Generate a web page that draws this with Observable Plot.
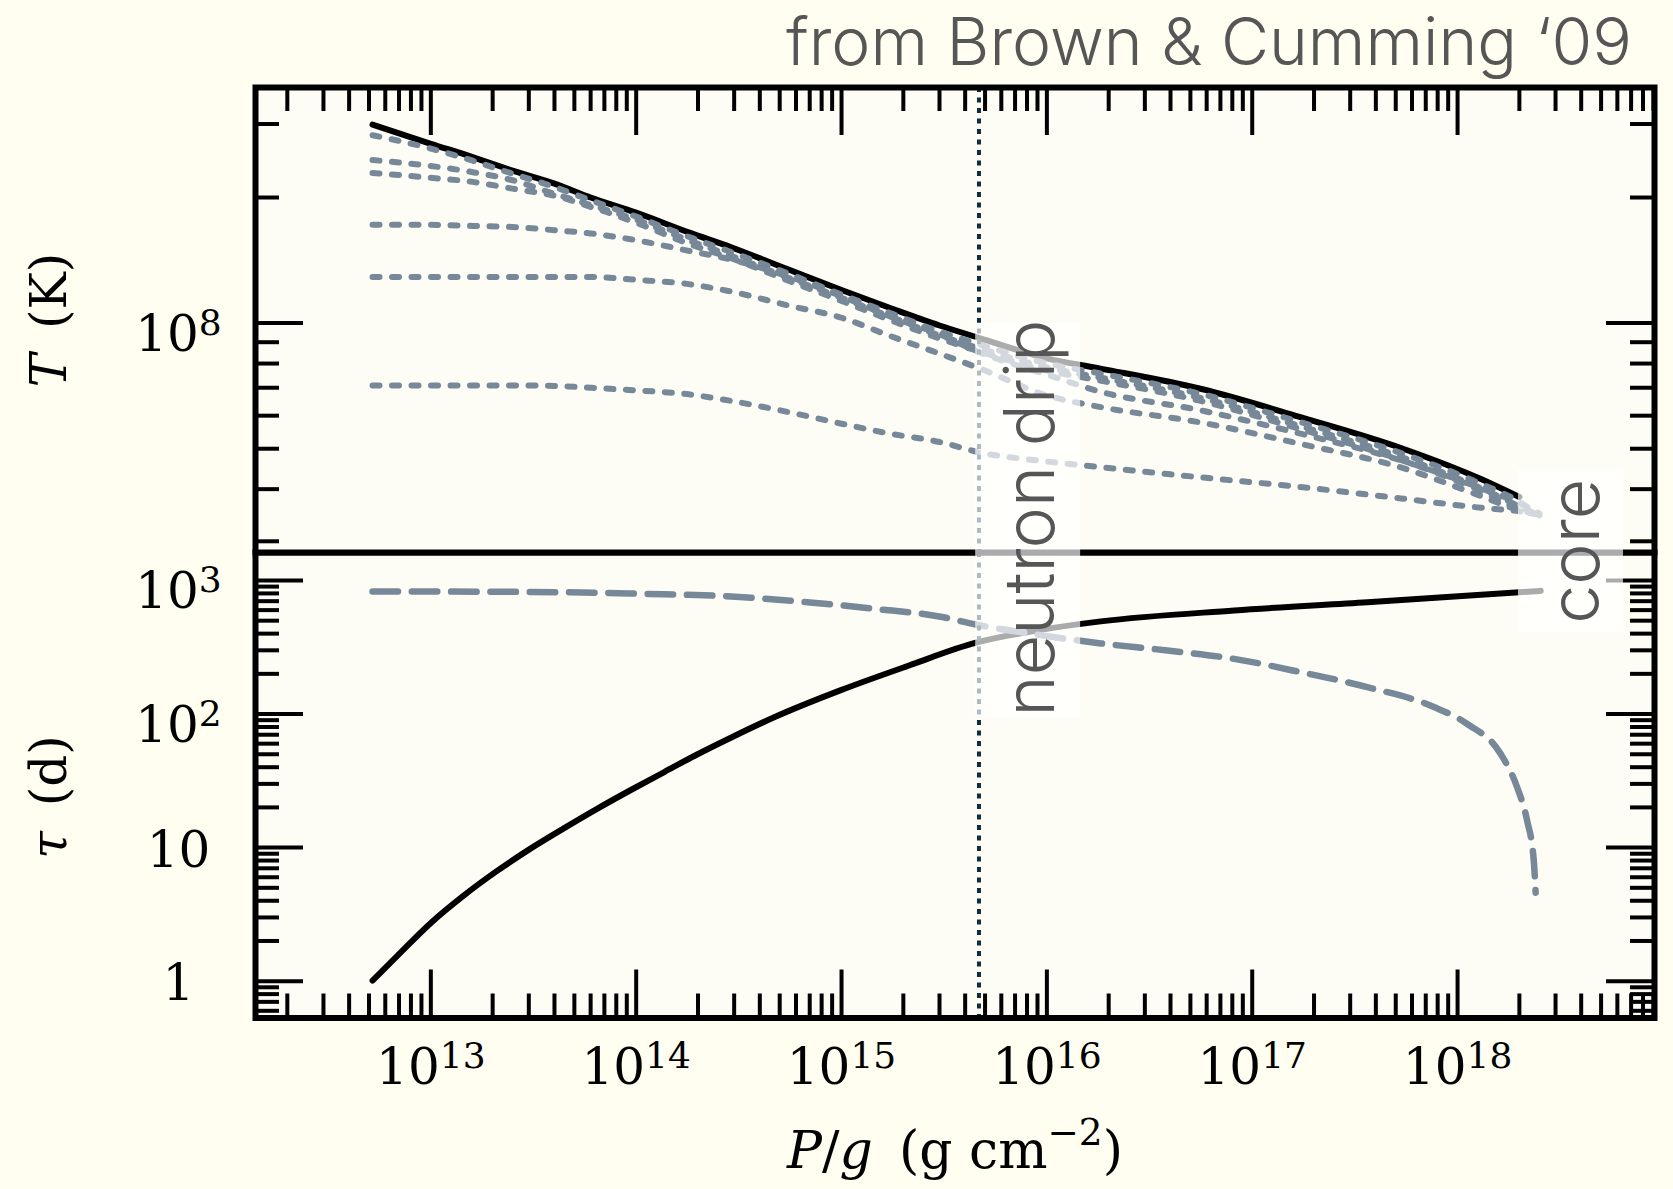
<!DOCTYPE html>
<html>
<head>
<meta charset="utf-8">
<script src="https://cdn.jsdelivr.net/npm/d3@7"></script>
<script src="https://cdn.jsdelivr.net/npm/@observablehq/plot@0.6"></script>
<style>
  html, body { margin: 0; padding: 0; background: #fffef0; }
  #fig { position: relative; width: 1673px; height: 1189px; background: #fffef0; overflow: hidden; }
  #fig .panel { position: absolute; left: 0; }
  #fig svg.overlay { position: absolute; left: 0; top: 0; pointer-events: none; }
</style>
</head>
<body>
<div id="fig">
  <div class="panel" id="lower" style="top:544px"></div>
  <div class="panel" id="upper" style="top:0px"></div>
</div>
<script>
// ---------------- data ----------------
// Column depth P/g (g cm^-2) sampled for the temperature profiles
const pressureT = [5.2e12, 1e13, 1.6e13, 2.5e13, 4e13, 6e13, 1e14, 1.8e14, 2.9e14, 5.6e14,
  1e15, 1.7e15, 3e15, 4.7e15, 1e16, 1.8e16, 5.6e16, 1.7e17, 5.3e17, 1.3e18, 2e18, 2.5e18];

// Steady-state crust temperature (K), solid black curve
const tempBase = [2.99e8, 2.69e8, 2.50e8, 2.32e8, 2.16e8, 2.00e8, 1.84e8, 1.65e8, 1.52e8, 1.34e8,
  1.20e8, 1.09e8, 9.87e7, 9.21e7, 8.23e7, 7.79e7, 6.96e7, 5.96e7, 5.02e7, 4.23e7, 3.83e7];

// Cooling profiles at successive times after the outburst (K), dotted curves
const tempRunA = [2.82e8, 2.62e8, 2.45e8, 2.28e8, 2.12e8, 1.97e8, 1.80e8, 1.61e8, 1.48e8, 1.31e8,
  1.17e8, 1.06e8, 9.55e7, 8.89e7, 8.01e7, 7.58e7, 6.77e7, 5.80e7, 4.88e7, 4.12e7, 3.73e7, 3.46e7];
const tempRunB = [2.46e8, 2.38e8, 2.30e8, 2.20e8, 2.04e8, 1.92e8, 1.77e8, 1.58e8, 1.45e8, 1.28e8,
  1.15e8, 1.04e8, 9.34e7, 8.70e7, 7.83e7, 7.41e7, 6.62e7, 5.67e7, 4.78e7, 4.02e7, 3.64e7, 3.46e7];
const tempRunC = [2.29e8, 2.23e8, 2.18e8, 2.10e8, 2.02e8, 1.90e8, 1.74e8, 1.55e8, 1.43e8, 1.26e8,
  1.13e8, 1.02e8, 9.19e7, 8.55e7, 7.70e7, 7.29e7, 6.51e7, 5.58e7, 4.70e7, 3.96e7, 3.58e7, 3.46e7];
const tempRunD = [1.72e8, 1.72e8, 1.71e8, 1.70e8, 1.67e8, 1.64e8, 1.58e8, 1.49e8, 1.42e8, 1.29e8,
  1.16e8, 1.04e8, 9.40e7, 8.51e7, 7.53e7, 6.86e7, 6.18e7, 5.44e7, 4.69e7, 4.02e7, 3.70e7, 3.50e7];
const tempRunE = [1.29e8, 1.29e8, 1.29e8, 1.29e8, 1.29e8, 1.29e8, 1.27e8, 1.24e8, 1.19e8, 1.10e8,
  1.03e8, 9.34e7, 8.45e7, 7.79e7, 6.71e7, 6.30e7, 5.78e7, 5.14e7, 4.51e7, 3.85e7, 3.56e7, 3.48e7];
const tempRunF = [7.09e7, 7.09e7, 7.09e7, 7.09e7, 7.07e7, 7.00e7, 6.90e7, 6.75e7, 6.51e7, 6.11e7,
  5.74e7, 5.44e7, 5.19e7, 4.90e7, 4.66e7, 4.52e7, 4.27e7, 4.05e7, 3.80e7, 3.61e7, 3.54e7, 3.48e7];

// Thermal time to depth (days), solid black curve
const pressureTauThermal = [5.2e12, 6.9e12, 1e13, 1.45e13, 2.11e13, 3.07e13, 4.46e13, 6.48e13, 9.42e13, 1.37e14,
  1.99e14, 2.89e14, 4.7e14, 9.93e14, 2.1e15, 4.51e15, 9.35e15, 1.83e16, 8.17e16, 3.64e17, 2e18, 2.54e18];
const tauThermal = [1.01, 1.56, 2.73, 4.39, 6.72, 9.87, 14.0, 19.6, 27.0, 36.8,
  50.0, 66.5, 94.6, 151, 229, 342, 427, 494, 596, 688, 817, 837];

// Time remaining to the core (days), dashed curve
const pressureTauCore = [5.2e12, 1e13, 4.4e13, 1.05e14, 2.9e14, 6.8e14, 1.44e15, 3.04e15, 4.5e15, 9.3e15,
  1.83e16, 3.86e16, 8.15e16, 1.72e17, 3.63e17, 7.67e17, 1.11e18, 1.62e18, 1.95e18, 2.18e18, 2.35e18, 2.4e18];
const tauCore = [827, 826, 817, 795, 759, 688, 614, 535, 468, 390,
  338, 299, 259, 206, 159, 113, 84.6, 50.4, 28.3, 16.0, 8.0, 4.6];

// Neutron drip depth
const dripP = 4.67e15;

// Axis ticks and labels
const xMajor = [1e13, 1e14, 1e15, 1e16, 1e17, 1e18];
const xLabels = ["10¹³", "10¹⁴", "10¹⁵", "10¹⁶", "10¹⁷", "10¹⁸"];
const tMajor = [1e8];
const tLabels = ["10⁸"];
const tauMajorPow = [100, 1000];
const tauLabelsPow = ["10²", "10³"];
const tauMajorPlain = [1, 10];
const tauLabelsPlain = ["1", "10"];

// Region annotations (label boxes drawn across both panels)
const notes = [
  {label: "neutron drip", x1: 4.5e15, x2: 1.46e16, y1: 1.0e8, y2: 1.135e7, tx: 1.08e16, ty: 3.41e7},
  {label: "core", x1: 1.98e18, x2: 6.43e18, y1: 4.44e7, y2: 1.815e7, tx: 4.88e18, ty: 2.84e7}
];

// ---------------- layout & style ----------------
const W = 1673;
const mLeft = 255, mRight = 19;
const innerW = W - mLeft - mRight;
const up = {height: 560, top: 87, bottom: 8};
const lo = {height: 645, top: 8, bottom: 171.5};
const hU = up.height - up.top - up.bottom;
const hL = lo.height - lo.top - lo.bottom;
const MAJ = 48, MIN = 24, TICK_W = 4;

const xDomain = [1.4e12, 9.1e18];
const tDomain = [2.82e7, 3.67e8];
const tauDomain = [0.53, 1620];

const ink = "black";
const slate = "#778899";
const dripInk = "#0e2c3b";
const noteInk = "#565656";
const panelFill = "#fdfdf6";
const serif = "'DejaVu Serif', serif";
const sans = "Inter, Roboto, 'Open Sans', sans-serif";

function minorLog([lo, hi]) {
  const out = [];
  for (let e = Math.floor(Math.log10(lo)); e <= Math.ceil(Math.log10(hi)); e++) {
    for (let m = 2; m <= 9; m++) {
      const v = +(m + "e" + e);
      if (v > lo && v < hi) out.push(v);
    }
  }
  return out;
}
const xMinor = minorLog(xDomain);
const tMinor = minorLog(tDomain);
const tauMinor = minorLog(tauDomain);

const tickStyle = {stroke: ink, strokeWidth: TICK_W};

function yTicks(major, minor) {
  return [
    Plot.tickY(major, {y: d => d, insetRight: innerW - MAJ, ...tickStyle}),
    Plot.tickY(major, {y: d => d, insetLeft: innerW - MAJ, ...tickStyle}),
    Plot.tickY(minor, {y: d => d, insetRight: innerW - MIN, ...tickStyle}),
    Plot.tickY(minor, {y: d => d, insetLeft: innerW - MIN, ...tickStyle})
  ];
}

const labelFont = {fontSize: 50, fontFamily: serif, fill: ink};

// ---------------- tables ----------------
const baseRows = tempBase.map((T, i) => ({P: pressureT[i], T}));
const dottedRows = [tempRunA, tempRunB, tempRunC, tempRunD, tempRunE, tempRunF]
  .flatMap((series, run) => series.map((T, i) => ({P: pressureT[i], T, run})));
const thermalRows = tauThermal.map((tau, i) => ({P: pressureTauThermal[i], tau}));
const coreRows = tauCore.map((tau, i) => ({P: pressureTauCore[i], tau}));

// ---------------- upper panel: temperature ----------------
const upperPlot = Plot.plot({
  width: W, height: up.height,
  marginLeft: mLeft, marginRight: mRight, marginTop: up.top, marginBottom: up.bottom,
  style: {background: "transparent", overflow: "visible"},
  x: {type: "log", domain: xDomain, axis: null},
  y: {type: "log", domain: tDomain, axis: null},
  marks: [
    Plot.frame({fill: panelFill, stroke: "none"}),
    Plot.line(baseRows, {x: "P", y: "T", stroke: ink, strokeWidth: 6, strokeLinecap: "round", curve: "monotone-x"}),
    Plot.line(dottedRows, {x: "P", y: "T", z: "run", stroke: slate, strokeWidth: 6,
      strokeDasharray: "7,12.5", strokeLinecap: "round", curve: "monotone-x"}),
    Plot.ruleX([dripP], {stroke: dripInk, strokeWidth: 4, strokeDasharray: "5,5.5"}),
    Plot.tickX(xMajor, {x: d => d, insetBottom: hU - MAJ, ...tickStyle}),
    Plot.tickX(xMinor, {x: d => d, insetBottom: hU - MIN, ...tickStyle}),
    ...yTicks(tMajor, tMinor),
    Plot.text(tMajor, {y: d => d, text: (d, i) => tLabels[i], frameAnchor: "left", dx: -77, dy: 12,
      textAnchor: "middle", lineAnchor: "middle", ...labelFont}),
    Plot.frame({stroke: ink, strokeWidth: 6}),
    Plot.rect(notes, {x1: "x1", x2: "x2", y1: "y1", y2: "y2", fill: "white", fillOpacity: 0.67}),
    Plot.text(notes, {x: "tx", y: "ty", text: "label", rotate: -90, textAnchor: "middle", lineAnchor: "bottom",
      fontSize: 70, fontFamily: sans, fontWeight: 300, fill: noteInk})
  ]
});

// ---------------- lower panel: timescales ----------------
const lowerPlot = Plot.plot({
  width: W, height: lo.height,
  marginLeft: mLeft, marginRight: mRight, marginTop: lo.top, marginBottom: lo.bottom,
  style: {background: "transparent", overflow: "visible"},
  x: {type: "log", domain: xDomain, axis: null},
  y: {type: "log", domain: tauDomain, axis: null},
  marks: [
    Plot.frame({fill: panelFill, stroke: "none"}),
    Plot.line(thermalRows, {x: "P", y: "tau", stroke: ink, strokeWidth: 6, strokeLinecap: "round", curve: "monotone-x"}),
    Plot.line(coreRows, {x: "P", y: "tau", stroke: slate, strokeWidth: 6.5,
      strokeDasharray: "25.5,13.8", strokeLinecap: "round", curve: "monotone-x"}),
    Plot.ruleX([dripP], {stroke: dripInk, strokeWidth: 4, strokeDasharray: "5,5.5"}),
    Plot.tickX(xMajor, {x: d => d, insetTop: hL - MAJ, ...tickStyle}),
    Plot.tickX(xMinor, {x: d => d, insetTop: hL - MIN, ...tickStyle}),
    ...yTicks([...tauMajorPlain, ...tauMajorPow], tauMinor),
    Plot.text(tauMajorPow, {y: d => d, text: (d, i) => tauLabelsPow[i], frameAnchor: "left", dx: -77, dy: 12,
      textAnchor: "middle", lineAnchor: "middle", ...labelFont}),
    Plot.text(tauMajorPlain, {y: d => d, text: (d, i) => tauLabelsPlain[i], frameAnchor: "left", dx: -77, dy: 3,
      textAnchor: "middle", lineAnchor: "middle", ...labelFont}),
    Plot.text(xMajor, {x: d => d, text: (d, i) => xLabels[i], frameAnchor: "bottom", dy: 66,
      textAnchor: "middle", lineAnchor: "bottom", ...labelFont}),
    Plot.frame({stroke: ink, strokeWidth: 6})
  ]
});

// Typeset powers of ten with a raised exponent
const SUPER = {"⁰": "0", "¹": "1", "²": "2", "³": "3", "⁴": "4", "⁵": "5", "⁶": "6", "⁷": "7", "⁸": "8", "⁹": "9", "⁻": "−"};
function raiseExponents(svg) {
  d3.select(svg).selectAll("text").each(function () {
    const s = this.textContent;
    const m = s.match(/^(10)([⁰¹²³⁴⁵⁶⁷⁸⁹⁻]+)$/);
    if (!m) return;
    const exp = [...m[2]].map(c => SUPER[c]).join("");
    const t = d3.select(this);
    t.text(null);
    t.append("tspan").text(m[1]);
    t.append("tspan").attr("dy", "-0.45em").style("font-size", "0.72em").text(exp);
  });
}
raiseExponents(upperPlot);
raiseExponents(lowerPlot);

document.getElementById("lower").appendChild(lowerPlot);
document.getElementById("upper").appendChild(upperPlot);

// ---------------- titles ----------------
const fig = d3.select("#fig");
const overlay = fig.append("svg").attr("class", "overlay").attr("width", 1673).attr("height", 1189);

overlay.append("text")
  .attr("x", 1632).attr("y", 65).attr("text-anchor", "end")
  .attr("font-family", sans).attr("font-weight", 300).attr("font-size", 66).attr("fill", noteInk)
  .text("from Brown & Cumming ‘09");

function axisTitle(g, parts) {
  parts.forEach(([txt, italic, shift, small]) => {
    const t = g.append("tspan").text(txt);
    if (italic) t.attr("font-style", "italic");
    if (shift) t.attr("dy", shift);
    if (small) t.style("font-size", small);
  });
}

const tTitle = overlay.append("text")
  .attr("transform", "translate(66,320) rotate(-90)").attr("text-anchor", "middle")
  .attr("font-family", serif).attr("font-size", 50).attr("fill", ink);
axisTitle(tTitle, [["T", true], ["\u2002(K)", false]]);

const tauTitle = overlay.append("text")
  .attr("transform", "translate(66,797) rotate(-90)").attr("text-anchor", "middle")
  .attr("font-family", serif).attr("font-size", 50).attr("fill", ink);
axisTitle(tauTitle, [["τ", true], ["\u2002(d)", false]]);

const xTitle = overlay.append("text")
  .attr("x", 955).attr("y", 1168).attr("text-anchor", "middle")
  .attr("font-family", serif).attr("font-size", 52).attr("fill", ink);
axisTitle(xTitle, [["P", true], ["/", false], ["g", true], ["\u2002(g cm", false],
  ["−2", false, "-23", "0.72em"], [")", false, "23"]]);
</script>
</body>
</html>
